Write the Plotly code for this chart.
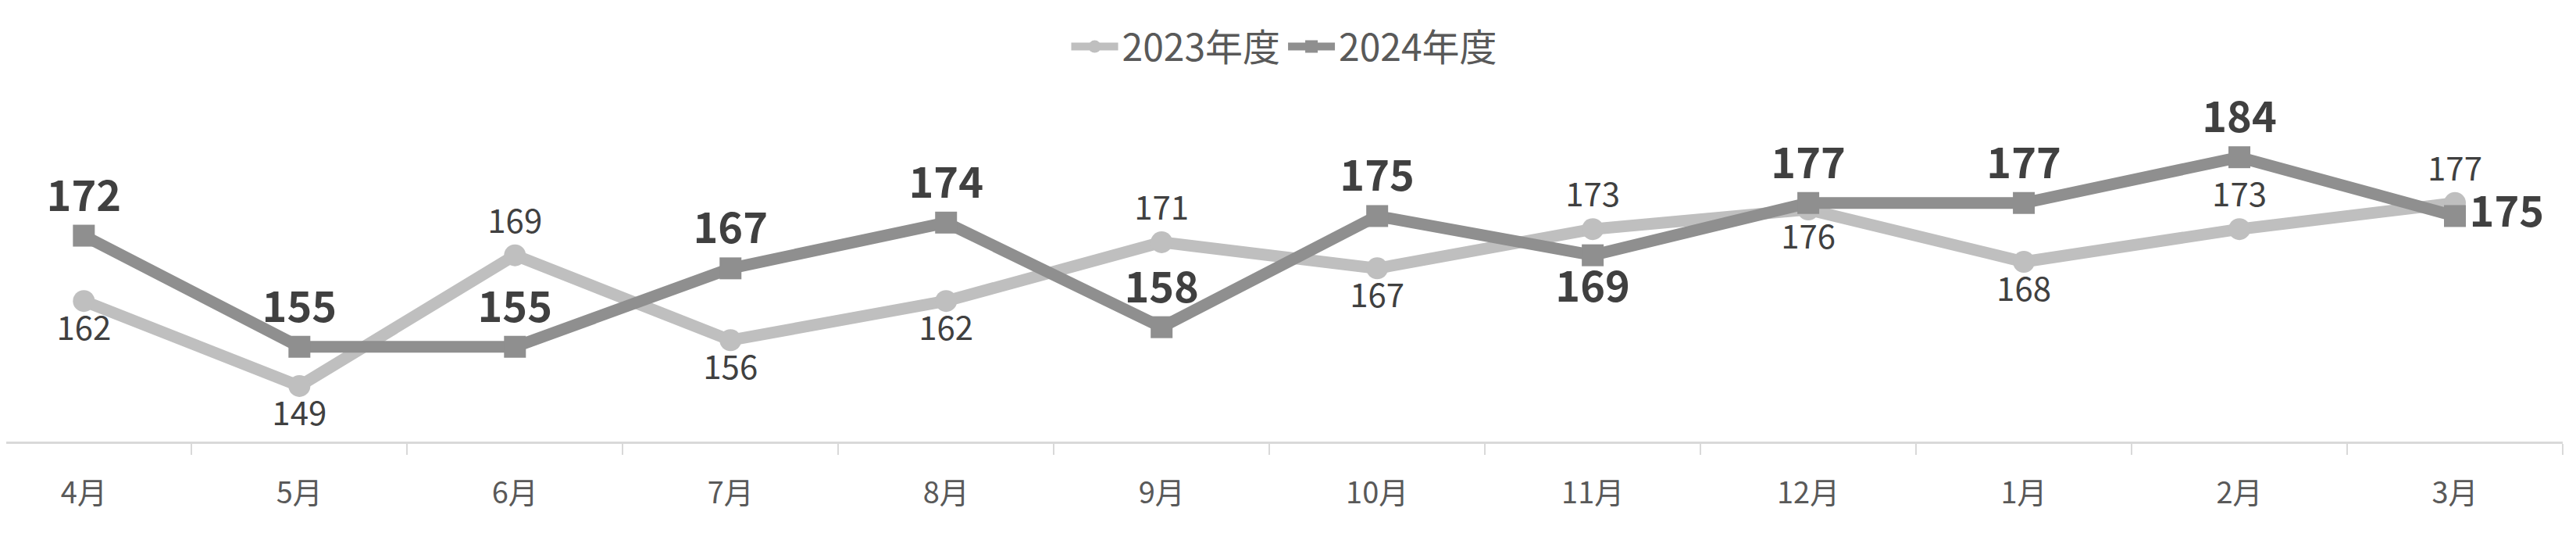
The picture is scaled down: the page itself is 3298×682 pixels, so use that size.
import plotly.graph_objects as go

months = ["4月", "5月", "6月", "7月", "8月", "9月", "10月", "11月", "12月", "1月", "2月", "3月"]
fy2023 = [162, 149, 169, 156, 162, 171, 167, 173, 176, 168, 173, 177]
fy2024 = [172, 155, 155, 167, 174, 158, 175, 169, 177, 177, 184, 175]
pos2023 = ["bottom center", "bottom center", "top center", "bottom center", "bottom center", "top center",
           "bottom center", "top center", "bottom center", "bottom center", "top center", "top center"]
pos2024 = ["top center"] * 7 + ["bottom center", "top center", "top center", "top center", "middle right"]

font = "Noto Sans CJK JP"
fig = go.Figure()
fig.add_trace(go.Scatter(
    x=months, y=fy2023, name="2023年度", mode="lines+markers+text",
    line=dict(color="#BFBFBF", width=15),
    marker=dict(symbol="circle", size=28, color="#BFBFBF"),
    text=[str(v) for v in fy2023], textposition=pos2023, cliponaxis=False,
    textfont=dict(family=font, size=42, color="#404040"),
))
fig.add_trace(go.Scatter(
    x=months, y=fy2024, name="2024年度", mode="lines+markers+text",
    line=dict(color="#8F8F8F", width=15),
    marker=dict(symbol="square", size=28, color="#8F8F8F"),
    text=[str(v) for v in fy2024], textposition=pos2024, cliponaxis=False,
    textfont=dict(family=font, size=54, color="#404040", weight="bold"),
))

fig.update_layout(
    width=3298, height=682,
    plot_bgcolor="white", paper_bgcolor="white",
    margin=dict(l=0, r=25, t=143, b=125),
    font=dict(family=font, color="#595959"),
    legend=dict(orientation="h", x=0.5, xanchor="center", y=1.22, yanchor="middle",
                itemwidth=60, font=dict(size=48, color="#595959")),
    xaxis=dict(range=[-0.36, 11.5], showline=True, linecolor="#D9D9D9", linewidth=3,
               ticks="outside", tickson="boundaries", tickcolor="#D9D9D9", ticklen=14, tickwidth=2,
               ticklabelstandoff=30,
               tickfont=dict(size=38, color="#595959"), showgrid=False),
    yaxis=dict(range=[140.5, 190], visible=False),
)
fig.write_html("out.html")
